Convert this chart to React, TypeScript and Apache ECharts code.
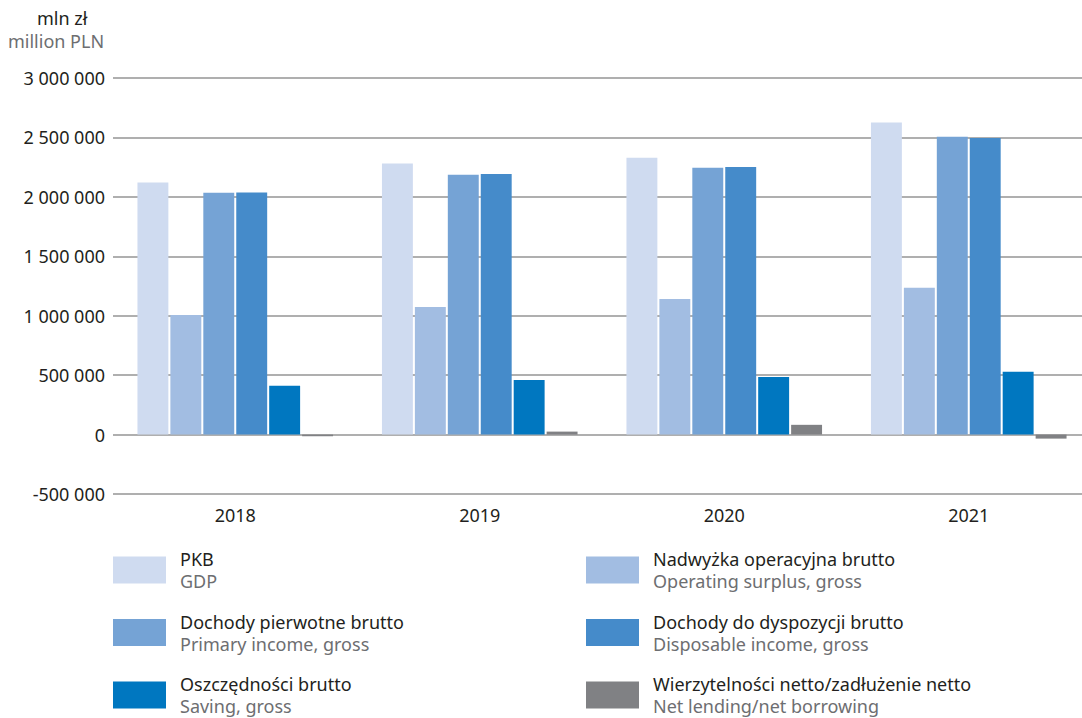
import React, { useEffect, useRef } from "react";
import * as echarts from "echarts";

const categories = ["2018", "2019", "2020", "2021"];
const seriesNames = [
  "PKB",
  "Nadwyżka operacyjna brutto",
  "Dochody pierwotne brutto",
  "Dochody do dyspozycji brutto",
  "Oszczędności brutto",
  "Wierzytelności netto/zadłużenie netto",
];
const englishNames = [
  "GDP",
  "Operating surplus, gross",
  "Primary income, gross",
  "Disposable income, gross",
  "Saving, gross",
  "Net lending/net borrowing",
];
const gdp = [2120000, 2280000, 2330000, 2625000];
const operatingSurplus = [1006000, 1074000, 1141000, 1235000];
const primaryIncome = [2034000, 2186000, 2244000, 2506000];
const disposableIncome = [2036000, 2193000, 2251000, 2496000];
const saving = [410000, 460000, 485000, 528000];
const netLending = [-14000, 25000, 82000, -34000];
const seriesValues = [gdp, operatingSurplus, primaryIncome, disposableIncome, saving, netLending];
const colors = ["#cfdbf0", "#a2bde2", "#75a3d5", "#458bca", "#0077c0", "#808184"];
const yMin = -500000;
const yMax = 3000000;
const yInterval = 500000;

const FONT = "'Noto Sans', sans-serif";
const DARK = "#231f20";
const GREY = "#6d6e71";

function fmt(v: number): string {
  const s = Math.abs(v).toString().replace(/\B(?=(\d{3})+(?!\d))/g, " ");
  return (v < 0 ? "-" : "") + s;
}

export default function App() {
  const ref = useRef<HTMLDivElement>(null);
  useEffect(() => {
    if (!ref.current) return;
    const chart = echarts.init(ref.current, null, { renderer: "svg" });
    const enMap: Record<string, string> = {};
    seriesNames.forEach((n, i) => (enMap[n] = englishNames[i]));
    const legendBase = {
      orient: "vertical" as const,
      top: 550,
      padding: 0,
      itemWidth: 53,
      itemHeight: 27,
      itemGap: 22.5,
      icon: "rect",
      selectedMode: false,
      formatter: (name: string) => `{a|${name}}\n{b|${enMap[name]}}`,
      textStyle: {
        rich: {
          a: { fontFamily: FONT, fontSize: 18, color: DARK, lineHeight: 22, padding: [0, 0, 0, 9] },
          b: { fontFamily: FONT, fontSize: 18, color: GREY, lineHeight: 22, padding: [0, 0, 0, 9] },
        },
      },
    };
    chart.setOption({
      animation: false,
      textStyle: { fontFamily: FONT },
      grid: { left: 113, top: 78, bottom: 224, width: 978, outerBoundsMode: "none" },
      graphic: [
        {
          type: "text",
          left: 37,
          top: 9,
          style: { text: "mln zł", font: `18px ${FONT}`, fill: DARK },
        },
        {
          type: "text",
          left: 8,
          top: 32,
          style: { text: "million PLN", font: `18px ${FONT}`, fill: GREY },
        },
      ],
      legend: [
        { ...legendBase, left: 113, data: [seriesNames[0], seriesNames[2], seriesNames[4]] },
        { ...legendBase, left: 586, data: [seriesNames[1], seriesNames[3], seriesNames[5]] },
      ],
      xAxis: {
        type: "category",
        data: categories,
        axisLine: { show: false, onZero: false },
        axisTick: { show: false },
        axisLabel: { color: DARK, fontSize: 18, fontFamily: FONT, margin: 12 },
      },
      yAxis: {
        type: "value",
        min: yMin,
        max: yMax,
        interval: yInterval,
        axisLine: { show: false },
        axisTick: { show: false },
        axisLabel: { color: DARK, fontSize: 18, fontFamily: FONT, margin: 8, formatter: fmt },
        splitLine: { lineStyle: { color: "#959595", width: 1.6 } },
      },
      series: seriesNames.map((name, i) => ({
        name,
        type: "bar",
        data: seriesValues[i],
        barCategoryGap: "20%",
        barGap: "6.5%",
        itemStyle: { color: colors[i] },
      })),
    });
    return () => chart.dispose();
  }, []);
  return (
    <div
      ref={ref}
      style={{ position: "fixed", left: 0, top: 0, width: 1082, height: 718, background: "#fff" }}
    />
  );
}
